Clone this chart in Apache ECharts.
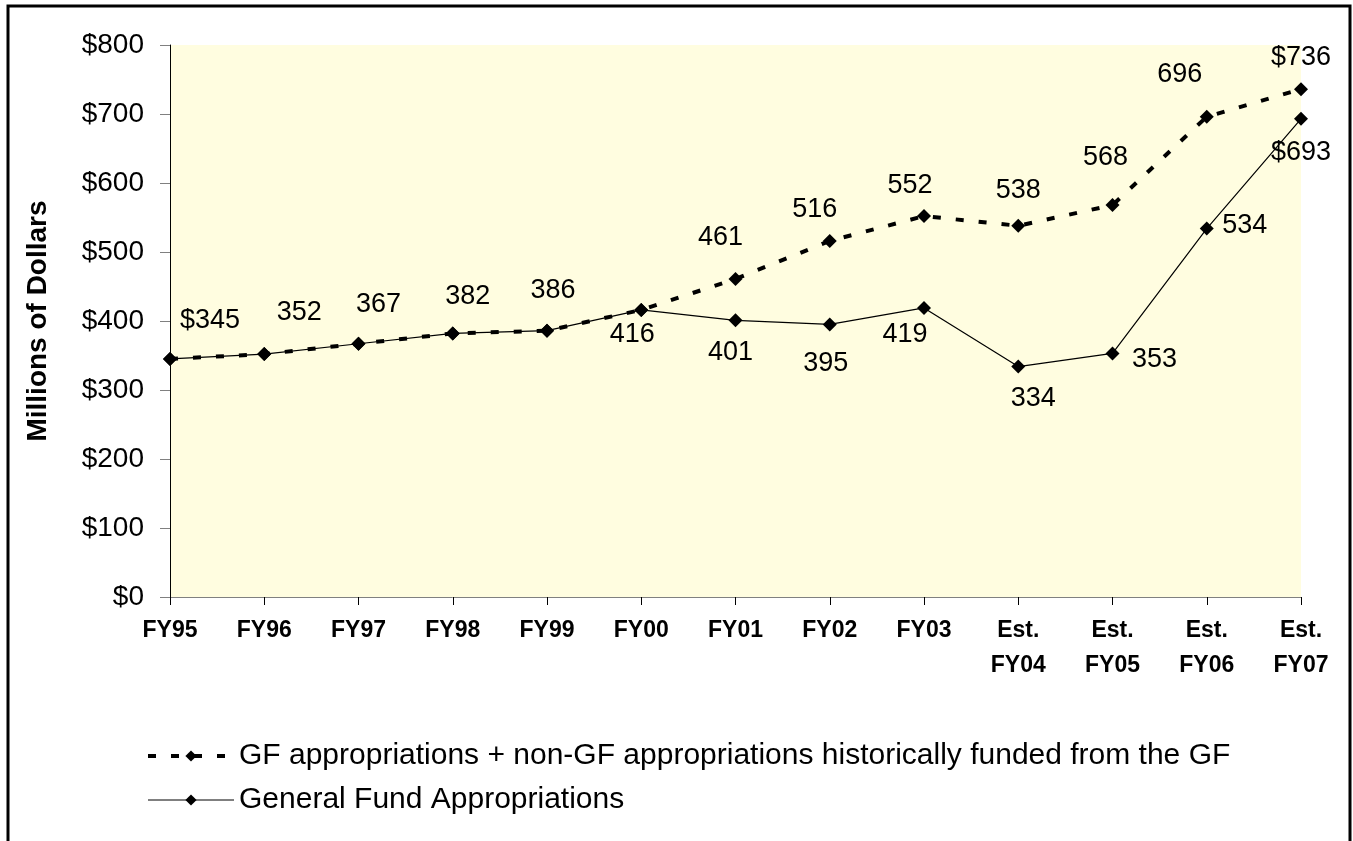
<!DOCTYPE html>
<html>
<head>
<meta charset="utf-8">
<script src="https://cdn.jsdelivr.net/npm/echarts@6/dist/echarts.min.js"></script>
<style>
  html, body { margin: 0; padding: 0; background: #fff; }
  #chart { width: 1353px; height: 841px; }
</style>
</head>
<body>
<div id="chart"></div>
<script>
const categories = ['FY95', 'FY96', 'FY97', 'FY98', 'FY99', 'FY00', 'FY01', 'FY02', 'FY03',
  'Est.\nFY04', 'Est.\nFY05', 'Est.\nFY06', 'Est.\nFY07'];
const gfPlusNonGf = [345, 352, 367, 382, 386, 416, 461, 516, 552, 538, 568, 696, 736];
const generalFund = [345, 352, 367, 382, 386, 416, 401, 395, 419, 334, 353, 534, 693];

const dashedName = 'GF appropriations + non-GF appropriations historically funded from the GF';
const solidName = 'General Fund Appropriations';

// where each value label sits relative to its point (null = no label)
const dashedLabelOffsets = [[40, -38], [35, -42], [20, -39], [15, -37], [6, -40], null,
  [-15, -41], [-15, -31], [-14, -31], [0, -35], [-7, -48], [-27, -42], [0, -32]];
const solidLabelOffsets = [null, null, null, null, null, [-9, 25],
  [-5, 32], [-4, 39], [-19, 27], [15, 32], [42, 6], [38, -3], [0, 34]];

const font = 'Liberation Sans, Arial, sans-serif';

function withLabels(values, offsets) {
  const last = values.length - 1;
  return values.map((v, i) => {
    const off = offsets[i];
    if (!off) return { value: v, label: { show: false } };
    return {
      value: v,
      label: {
        show: true,
        position: 'inside',
        offset: off,
        formatter: (i === 0 || i === last) ? '$' + v : String(v)
      }
    };
  });
}

const chart = echarts.init(document.getElementById('chart'));

chart.setOption({
  animation: false,
  textStyle: { fontFamily: font },
  grid: {
    left: 170,
    right: 52,
    top: 45,
    bottom: 244,
    show: true,
    backgroundColor: '#FFFDE0',
    borderWidth: 0
  },
  graphic: [{
    type: 'rect',
    shape: { x: 8, y: 6, width: 1342, height: 870 },
    style: { fill: 'none', stroke: '#000', lineWidth: 3 },
    z: 100
  }],
  legend: {
    orient: 'vertical',
    left: 141,
    top: 736,
    itemWidth: 86,
    itemHeight: 14,
    itemGap: 14,
    data: [
      { name: dashedName, lineStyle: { width: 4, type: [8, 15] } },
      { name: solidName, lineStyle: { width: 1 } }
    ],
    textStyle: { fontSize: 30, color: '#000', fontFamily: font }
  },
  xAxis: {
    type: 'category',
    data: categories,
    boundaryGap: false,
    axisLine: { lineStyle: { color: '#808080', width: 1 } },
    axisTick: { show: true, length: 8, lineStyle: { color: '#000' } },
    axisLabel: {
      interval: 0,
      margin: 16,
      fontSize: 23,
      fontWeight: 'bold',
      color: '#000',
      lineHeight: 35,
      fontFamily: font
    }
  },
  yAxis: {
    type: 'value',
    min: 0,
    max: 800,
    interval: 100,
    name: 'Millions of Dollars',
    nameLocation: 'middle',
    nameGap: 118,
    nameTextStyle: { fontSize: 28, fontWeight: 'bold', color: '#000', fontFamily: font },
    axisLine: { show: true, lineStyle: { color: '#000', width: 1 } },
    axisTick: { show: true, length: 10, lineStyle: { color: '#808080' } },
    splitLine: { show: false },
    axisLabel: {
      margin: 26,
      fontSize: 28,
      color: '#000',
      fontFamily: font,
      formatter: v => '$' + v
    }
  },
  series: [
    {
      name: solidName,
      type: 'line',
      data: withLabels(generalFund, solidLabelOffsets),
      symbol: 'diamond',
      symbolSize: 14,
      itemStyle: { color: '#000' },
      lineStyle: { color: '#000', width: 1.2 },
      label: { fontSize: 27, color: '#000', fontFamily: font },
      z: 2
    },
    {
      name: dashedName,
      type: 'line',
      data: withLabels(gfPlusNonGf, dashedLabelOffsets),
      symbol: 'diamond',
      symbolSize: 14,
      itemStyle: { color: '#000' },
      lineStyle: { color: '#000', width: 4, type: [8, 15] },
      label: { fontSize: 27, color: '#000', fontFamily: font },
      z: 3
    }
  ]
});
</script>
</body>
</html>
